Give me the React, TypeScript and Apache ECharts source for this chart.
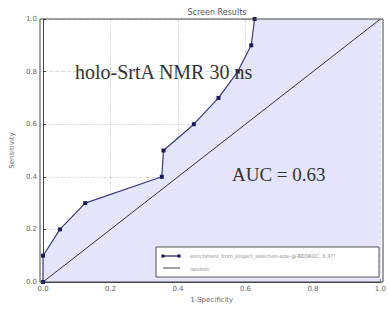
import React, { useEffect, useRef } from "react";
import * as echarts from "echarts";

const rocX = [0, 0, 0.05, 0.125, 0.352, 0.357, 0.447, 0.52, 0.577, 0.617, 0.627];
const rocY = [0, 0.1, 0.2, 0.3, 0.4, 0.5, 0.6, 0.7, 0.8, 0.9, 1.0];
const diagX = [0, 1];
const diagY = [0, 1];
const tickLabels = ["0.0", "0.2", "0.4", "0.6", "0.8", "1.0"];
const legendNames = ["enrichment_from_project_selection-size-@-BEDROC: 0.3??", "random"];

export default function App() {
  const ref = useRef<HTMLDivElement>(null);
  useEffect(() => {
    const chart = echarts.init(ref.current!, null, { renderer: "svg" });
    const roc = rocX.map((x, i) => [x, rocY[i]]);
    const fill = [...roc, [1, 1]];
    const diag = diagX.map((x, i) => [x, diagY[i]]);
    const axisCommon = {
      type: "value" as const,
      min: 0,
      max: 1,
      interval: 0.2,
      axisLine: { show: true, lineStyle: { color: "#444", width: 1 } },
      axisTick: { show: true, inside: true, length: 3, lineStyle: { color: "#444" } },
      splitLine: { show: true, lineStyle: { color: "#dcdcdc", type: "dashed", width: 1 } },
      axisLabel: {
        color: "#666",
        fontSize: 7,
        fontFamily: "DejaVu Sans",
        formatter: (v: number) => tickLabels[Math.round(v * 5)],
      },
      nameTextStyle: { color: "#666", fontSize: 7, fontFamily: "DejaVu Sans" },
    };
    chart.setOption({
      animation: false,
      title: {
        text: "Screen Results",
        left: 212,
        top: 3,
        textAlign: "center",
        textStyle: { color: "#555", fontSize: 8, fontWeight: "normal", fontFamily: "DejaVu Sans" },
      },
      grid: { left: 40, right: 6, top: 19, bottom: 29 },
      xAxis: {
        ...axisCommon,
        name: "1-Specificity",
        nameLocation: "middle",
        nameGap: 14,
        axisLabel: { ...axisCommon.axisLabel, margin: 3 },
      },
      yAxis: {
        ...axisCommon,
        name: "Sensitivity",
        nameLocation: "middle",
        nameGap: 22,
        axisLabel: { ...axisCommon.axisLabel, margin: 6 },
      },
      graphic: [
        {
          type: "rect",
          z: 100,
          shape: { x: 40, y: 19, width: 343, height: 263 },
          style: { fill: "none", stroke: "#444", lineWidth: 1 },
        },
        {
          type: "text",
          z: 100,
          left: 75,
          top: 62,
          style: { text: "holo-SrtA NMR 30 ns", font: "20px 'Liberation Serif'", fill: "#333" },
        },
        {
          type: "text",
          z: 100,
          left: 232,
          top: 165,
          style: { text: "AUC = 0.63", font: "19px 'Liberation Serif'", fill: "#333" },
        },
        {
          type: "rect",
          z: 100,
          shape: { x: 156, y: 247, width: 223, height: 30 },
          style: { fill: "#ffffff", stroke: "#555", lineWidth: 1 },
        },
        { type: "line", z: 101, shape: { x1: 162, y1: 256, x2: 180, y2: 256 }, style: { stroke: "#1a1a5a", lineWidth: 1.2 } },
        { type: "circle", z: 101, shape: { cx: 163, cy: 256, r: 1.8 }, style: { fill: "#1a1a5a" } },
        { type: "circle", z: 101, shape: { cx: 179, cy: 256, r: 1.8 }, style: { fill: "#1a1a5a" } },
        {
          type: "text",
          z: 101,
          left: 190,
          top: 253,
          style: { text: legendNames[0], font: "5px 'DejaVu Sans'", fill: "#888" },
        },
        { type: "line", z: 101, shape: { x1: 163, y1: 268, x2: 180, y2: 268 }, style: { stroke: "#444", lineWidth: 1 } },
        {
          type: "text",
          z: 101,
          left: 190,
          top: 266,
          style: { text: legendNames[1], font: "5px 'DejaVu Sans'", fill: "#888" },
        },
      ],
      series: [
        {
          type: "line",
          data: fill,
          symbol: "none",
          lineStyle: { opacity: 0 },
          areaStyle: { color: "#e4e4fa", opacity: 1 },
          z: 1,
          silent: true,
        },
        {
          type: "line",
          data: diag,
          symbol: "none",
          lineStyle: { color: "#333", width: 1 },
          z: 2,
        },
        {
          type: "line",
          data: roc,
          symbol: "rect",
          symbolSize: 4,
          itemStyle: { color: "#1a1a5a" },
          lineStyle: { color: "#3a3a7a", width: 1.2 },
          z: 3,
        },
      ],
    });
    return () => chart.dispose();
  }, []);
  return <div ref={ref} style={{ width: 389, height: 311, position: "absolute", left: 0, top: 0 }} />;
}
